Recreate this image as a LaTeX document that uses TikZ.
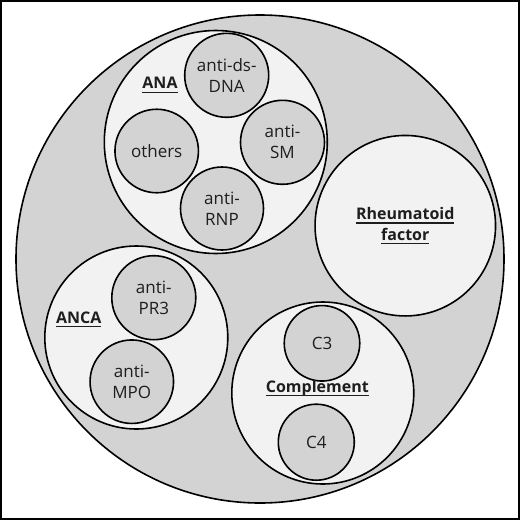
\documentclass[tikz,border=0pt]{standalone}
\usepackage{fontspec}
\setmainfont{Open Sans}
\definecolor{midgrey}{RGB}{211,211,211}
\definecolor{lightgrey}{RGB}{242,242,242}
\definecolor{inkc}{RGB}{30,30,30}
\newcommand{\ulx}[1]{\leavevmode\setbox0=\hbox{#1}\rlap{\raisebox{-4pt}{\rule{\wd0}{1.2pt}}}\box0}
\begin{document}
\begin{tikzpicture}[x=1pt,y=-1pt,
  ring/.style={circle,draw=black,line width=1.6pt,inner sep=0pt,outer sep=0pt},
  outerring/.style={ring,fill=midgrey},
  groupring/.style={ring,fill=lightgrey},
  itemring/.style={ring,fill=midgrey,text=inkc,align=center,font=\fontsize{17}{21}\selectfont},
  grouplabel/.style={inner sep=0pt,text=inkc,align=center,font=\fontsize{16}{20.5}\selectfont\bfseries}
]
\useasboundingbox (0,0) rectangle (520,520);
\fill[white] (0,0) rectangle (520,520);
\draw[line width=2.4pt] (1.2,1.2) rectangle (518.8,518.8);

\node[outerring,minimum size=488pt] (outer) at (260,259) {};

% ANA
\node[groupring,minimum size=223pt] (ana) at (215.8,142) {};
\node[itemring,minimum size=84pt] (ds) at (226.7,75.3) {anti-ds-\\DNA};
\node[itemring,minimum size=84pt] (sm) at (282.5,142.3) {anti-\\SM};
\node[itemring,minimum size=83.5pt] (others) at (156.7,151) {others};
\node[itemring,minimum size=83pt] (rnp) at (222,208.5) {anti-\\RNP};
\node[grouplabel] (analbl) at (160,85) {\ulx{ANA}};

% Rheumatoid factor
\node[groupring,minimum size=180.5pt,grouplabel] (rf) at (405.3,225.7) {\ulx{Rheumatoid}\\\ulx{factor}};

% ANCA
\node[groupring,minimum size=183pt] (anca) at (136.3,337.5) {};
\node[itemring,minimum size=84pt] (pr3) at (153.8,297.7) {anti-\\PR3};
\node[itemring,minimum size=83.5pt] (mpo) at (131.8,381.7) {anti-\\MPO};
\node[grouplabel] (ancalbl) at (78.8,319.5) {\ulx{ANCA}};

% Complement
\node[groupring,minimum size=182pt] (comp) at (322.8,393) {};
\node[itemring,minimum size=75.5pt] (c3) at (322,343.3) {C3};
\node[itemring,minimum size=76pt] (c4) at (316.3,442.2) {C4};
\node[grouplabel] (complbl) at (317.3,388) {\ulx{Complement}};
\end{tikzpicture}
\end{document}
